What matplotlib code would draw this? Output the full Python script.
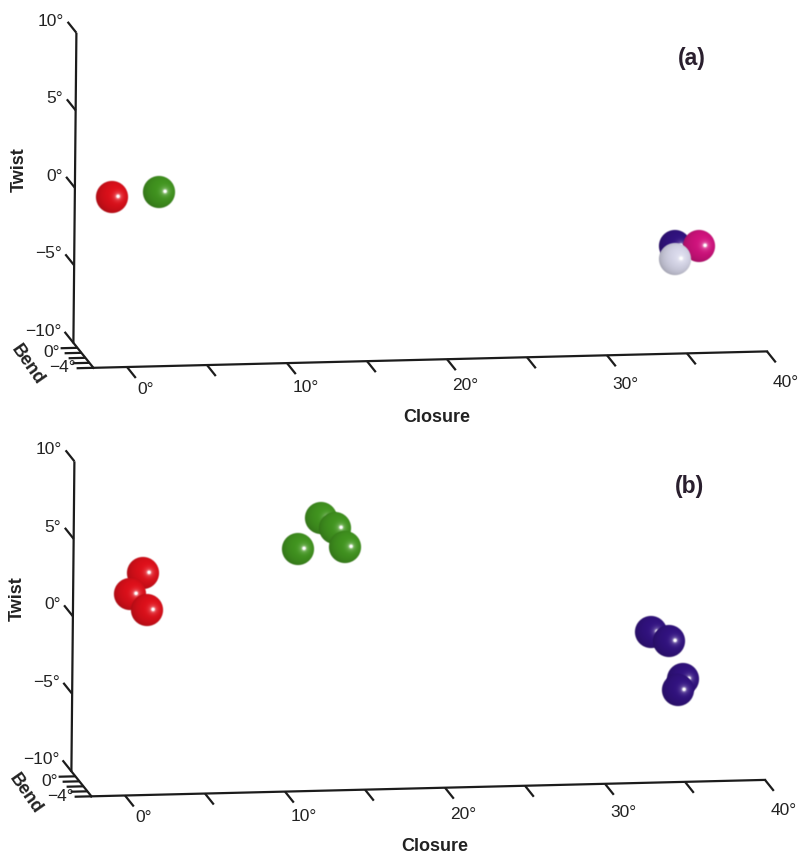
import numpy as np
import matplotlib
matplotlib.use('Agg')
import matplotlib.pyplot as plt

plt.rcParams['font.family'] = ['Liberation Sans', 'DejaVu Sans']

# ---------------- data (degrees) ----------------
# Panel (a): one structure per group
a_group   = ['red', 'green', 'navy', 'magenta', 'white']
a_closure = [0.0, 2.9, 35.2, 36.7, 35.2]
a_twist   = [-0.3, -0.1, -4.4, -4.4, -5.2]
a_bend    = [0.0, 0.0, 0.0, 0.0, 0.0]

# Panel (b): clusters
b_group   = ['red', 'red', 'red',
             'green', 'green', 'green', 'green',
             'navy', 'navy', 'navy', 'navy']
b_closure = [2.0, 1.2, 2.3,
             11.7, 13.1, 14.0, 14.6,
             33.8, 34.9, 35.8, 35.5]
b_twist   = [3.0, 1.7, 0.6,
             4.3, 6.3, 5.6, 4.4,
             -1.6, -2.2, -4.7, -5.4]
b_bend    = [0.0] * 11

closure_ticks  = [0, 5, 10, 15, 20, 25, 30, 35, 40]
closure_labels = {0: '0°', 10: '10°', 20: '20°', 30: '30°', 40: '40°'}
twist_ticks    = [-10, -5, 0, 5, 10]
twist_labels   = {-10: '−10°', -5: '−5°', 0: '0°', 5: '5°', 10: '10°'}
bend_ticks     = [0, -1, -2, -3, -4]
bend_labels    = {0: '0°', -4: '−4°'}

group_colors = {
    'red':     (0.85, 0.06, 0.10),
    'green':   (0.25, 0.57, 0.12),
    'navy':    (0.19, 0.07, 0.49),
    'magenta': (0.80, 0.07, 0.48),
    'white':   (0.82, 0.82, 0.89),
}

# ---------------- oblique projection ----------------
EX = np.array([16.0, -0.39])   # per degree closure
EY = np.array([0.15, -15.5])   # per degree twist
EZ = np.array([-4.0, -5.0])    # per degree bend
ORIGINS = {'a': np.array([112.5, 193.0]), 'b': np.array([110.5, 621.5])}

C0, T0, T1, B0, B1, C1 = -2.1, -10, 10, 1, -4, 40


def proj(panel, c, t, b):
    c = np.asarray(c, float); t = np.asarray(t, float); b = np.asarray(b, float)
    o = ORIGINS[panel]
    x = o[0] + c * EX[0] + t * EY[0] + b * EZ[0]
    y = o[1] + c * EX[1] + t * EY[1] + b * EZ[1]
    return x, y


def sphere_img(rgb, n=90):
    v, u = np.mgrid[1:-1:n * 1j, -1:1:n * 1j]
    r2 = u ** 2 + v ** 2
    z = np.sqrt(np.clip(1 - r2, 0, 1))
    L = np.array([0.35, 0.25, 1.0]); L /= np.linalg.norm(L)
    diff = np.clip(u * L[0] + v * L[1] + z * L[2], 0, 1)
    base = np.array(rgb)
    col = base[None, None, :] * (0.80 + 0.24 * diff[..., None])
    core = np.exp(-((u - 0.36) ** 2 + (v - 0.04) ** 2) / (2 * 0.08 ** 2))
    glow = 0.3 * np.exp(-((u - 0.36) ** 2 + (v - 0.04) ** 2) / (2 * 0.2 ** 2))
    s = np.clip(core + glow, 0, 1)[..., None]
    col = col * (1 - s) + s
    col = np.clip(col, 0, 1)
    r = np.sqrt(r2)
    alpha = np.clip((1 - r) / 0.09, 0, 1)
    return np.dstack([col, alpha])


fig = plt.figure(figsize=(8.0, 8.54), dpi=100)
ax = fig.add_axes([0, 0, 1, 1])
ax.set_xlim(0, 800)
ax.set_ylim(854, 0)
ax.axis('off')

LC = '#1c1c1c'
LW = 1.6
TK = 12.5
RAD = 17.0
imgs = {g: sphere_img(c) for g, c in group_colors.items()}


def draw_panel(panel, label, groups, cs, ts, bs):
    # axes lines
    x, y = proj(panel, [C0, C0], [T0, T1], [B0, B0])
    ax.plot(x, y, color=LC, lw=LW, solid_capstyle='butt')
    x, y = proj(panel, [C0, C0], [T0, T0], [B0, B1])
    ax.plot(x, y, color=LC, lw=LW)
    x, y = proj(panel, [C0, C1], [T0, T0], [B1, B1])
    ax.plot(x, y, color=LC, lw=LW)
    # twist ticks (along bend direction)
    for t in twist_ticks:
        x, y = proj(panel, [C0, C0], [t, t], [B0, B0 + 2.2])
        ax.plot(x, y, color=LC, lw=LW, solid_capstyle='butt')
        ax.text(x[1] - 3.5, y[1] - 1.5, twist_labels[t], ha='right', va='center',
                fontsize=TK, color='#222222')
    # closure ticks
    for c in closure_ticks:
        x, y = proj(panel, [c, c], [T0, T0], [B1, B1 - 2.2])
        ax.plot(x, y, color=LC, lw=LW, solid_capstyle='butt')
        if c in closure_labels:
            ax.text(x[1] + 9.5, y[1] + 10.5 + 0.21 * c, closure_labels[c],
                    ha='center', va='center', fontsize=TK, color='#222222')
    # bend ticks
    for b in bend_ticks:
        x, y = proj(panel, [C0, C0 - 1.05], [T0, T0], [b, b])
        ax.plot(x, y, color=LC, lw=LW, solid_capstyle='butt')
    for b, s in bend_labels.items():
        x, y = proj(panel, C0 - 1.05, T0, b)
        dy = 3.5 if b == 0 else -1.5
        ax.text(x - 1.0, y + dy, s, ha='right', va='center', fontsize=TK,
                color='#222222')
    o = ORIGINS[panel]
    ax.text(o[0] - 93.5, o[1] - 23, 'Twist', rotation=90, ha='center',
            va='center', fontsize=13, fontweight='bold', color='#222222')
    ax.text(o[0] + 324.5, o[1] + 225, 'Closure', ha='center', va='center',
            fontsize=13, fontweight='bold', color='#222222')
    ax.text(o[0] - 85, o[1] + 172, 'Bend', rotation=-55, ha='center',
            va='center', fontsize=13, fontweight='bold', color='#222222',
            rotation_mode='anchor')
    ax.text(o[0] + 579.5, o[1] - 135, label, ha='center', va='center',
            fontsize=16.5, fontweight='bold', color='#2a1f2e')
    # spheres
    px, py = proj(panel, cs, ts, bs)
    for g, xx, yy in zip(groups, px, py):
        ax.imshow(imgs[g], extent=(xx - RAD, xx + RAD, yy + RAD, yy - RAD),
                  origin='upper', interpolation='bilinear', zorder=3)


draw_panel('a', '(a)', a_group, a_closure, a_twist, a_bend)
draw_panel('b', '(b)', b_group, b_closure, b_twist, b_bend)

ax.set_xlim(0, 800)
ax.set_ylim(854, 0)
ax.set_aspect('auto')
fig.savefig('out.png', dpi=100, facecolor='white')
